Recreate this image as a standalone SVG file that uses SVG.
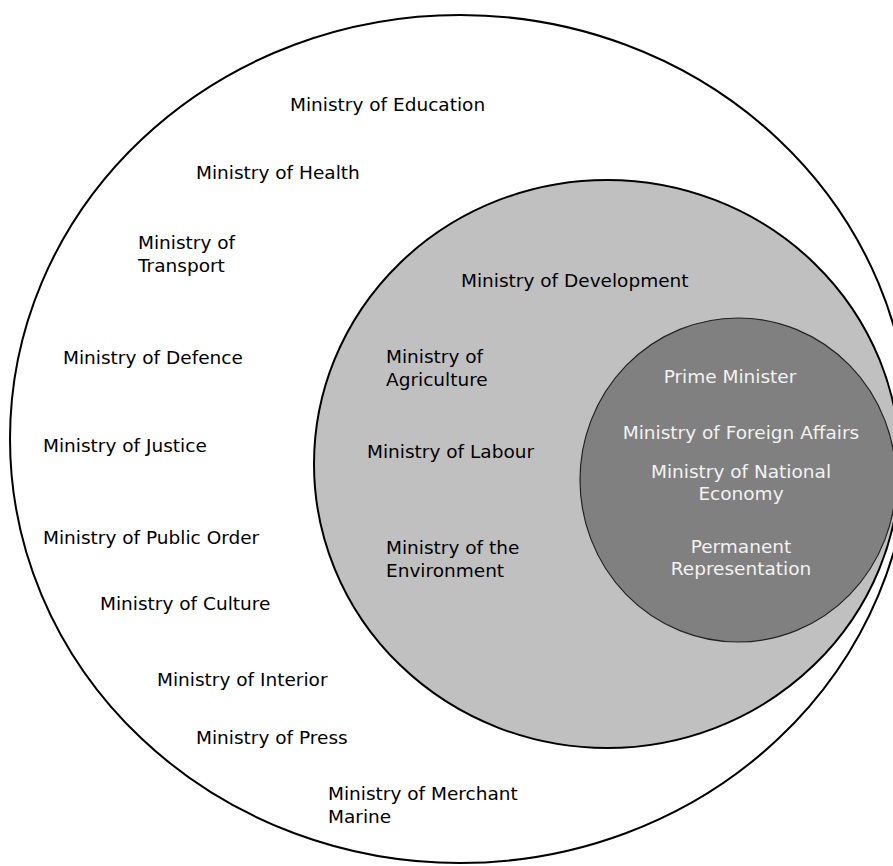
<svg xmlns="http://www.w3.org/2000/svg" width="893" height="866" viewBox="0 0 893 866">
<style>
.t{font-family:"DejaVu Sans",Verdana,sans-serif;font-size:18.5px;fill:#000}
.w{fill:#f2f2f2}
.m{text-anchor:middle}
</style>
<rect width="893" height="866" fill="#fff"/>
<g id="outer">
<ellipse cx="460" cy="439" rx="450" ry="424" fill="#fff" stroke="#000" stroke-width="2"/>
</g>
<g id="middle">
<ellipse cx="607" cy="464" rx="293" ry="284" fill="#c0c0c0" stroke="#000" stroke-width="2"/>
</g>
<g id="inner">
<ellipse cx="738" cy="480" rx="158" ry="162" fill="#808080" stroke="#222" stroke-width="1.2"/>
</g>
<g id="connectors"></g>
<g id="outer-labels">
<text class="t" x="290" y="111">Ministry of Education</text>
<text class="t" x="196" y="179">Ministry of Health</text>
<text class="t" x="138" y="249">Ministry of</text>
<text class="t" x="138" y="272">Transport</text>
<text class="t" x="63" y="364">Ministry of Defence</text>
<text class="t" x="43" y="452">Ministry of Justice</text>
<text class="t" x="43" y="544">Ministry of Public Order</text>
<text class="t" x="100" y="610">Ministry of Culture</text>
<text class="t" x="157" y="686">Ministry of Interior</text>
<text class="t" x="196" y="744">Ministry of Press</text>
<text class="t" x="328" y="800">Ministry of Merchant</text>
<text class="t" x="328" y="823">Marine</text>
</g>
<g id="middle-labels">
<text class="t" x="461" y="287">Ministry of Development</text>
<text class="t" x="386" y="363">Ministry of</text>
<text class="t" x="386" y="386">Agriculture</text>
<text class="t" x="367" y="458">Ministry of Labour</text>
<text class="t" x="386" y="554">Ministry of the</text>
<text class="t" x="386" y="577">Environment</text>
</g>
<g id="inner-labels">
<text class="t w m" x="730" y="383">Prime Minister</text>
<text class="t w m" x="741" y="439">Ministry of Foreign Affairs</text>
<text class="t w m" x="741" y="478">Ministry of National</text>
<text class="t w m" x="741" y="500">Economy</text>
<text class="t w m" x="741" y="553">Permanent</text>
<text class="t w m" x="741" y="575">Representation</text>
</g>
</svg>
